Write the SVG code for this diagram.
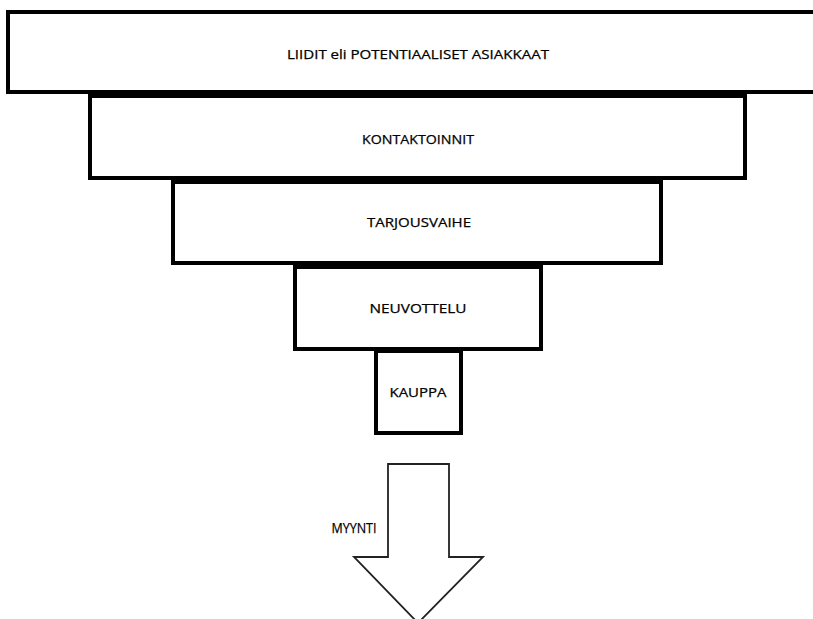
<svg xmlns="http://www.w3.org/2000/svg" width="813" height="619" viewBox="0 0 813 619">
<style>
.box{fill:#fff;stroke:#000;stroke-width:4}
.lbl{font-family:"Open Sans","Liberation Sans",sans-serif;font-size:13px;fill:#000;stroke:#000;stroke-width:0.25;text-anchor:middle;dominant-baseline:central}
.arrow{fill:#fff;stroke:#222;stroke-width:1.8}
</style>
<rect width="813" height="619" fill="#fff"/>
<g id="node-liidit"><rect class="box" x="8" y="12" width="820" height="80"/><text class="lbl" x="418" y="54" textLength="262" lengthAdjust="spacingAndGlyphs">LIIDIT eli POTENTIAALISET ASIAKKAAT</text></g>
<g id="node-kontaktoinnit"><rect class="box" x="90" y="96" width="655" height="82"/><text class="lbl" x="418" y="139" textLength="112" lengthAdjust="spacingAndGlyphs">KONTAKTOINNIT</text></g>
<g id="node-tarjousvaihe"><rect class="box" x="173" y="182" width="488" height="81"/><text class="lbl" x="419" y="222" textLength="104" lengthAdjust="spacingAndGlyphs">TARJOUSVAIHE</text></g>
<g id="node-neuvottelu"><rect class="box" x="295" y="267" width="246" height="82"/><text class="lbl" x="418" y="308" textLength="97" lengthAdjust="spacingAndGlyphs">NEUVOTTELU</text></g>
<g id="node-kauppa"><rect class="box" x="376" y="351" width="85" height="82"/><text class="lbl" x="418" y="392" textLength="57" lengthAdjust="spacingAndGlyphs">KAUPPA</text></g>
<g id="connectors"><polygon class="arrow" points="388,464 449,464 449,557 483,557 418,623 354,557 388,557"/></g>
<text class="lbl" x="354" y="527" textLength="45" lengthAdjust="spacingAndGlyphs" style="font-size:15px">MYYNTI</text>
</svg>
